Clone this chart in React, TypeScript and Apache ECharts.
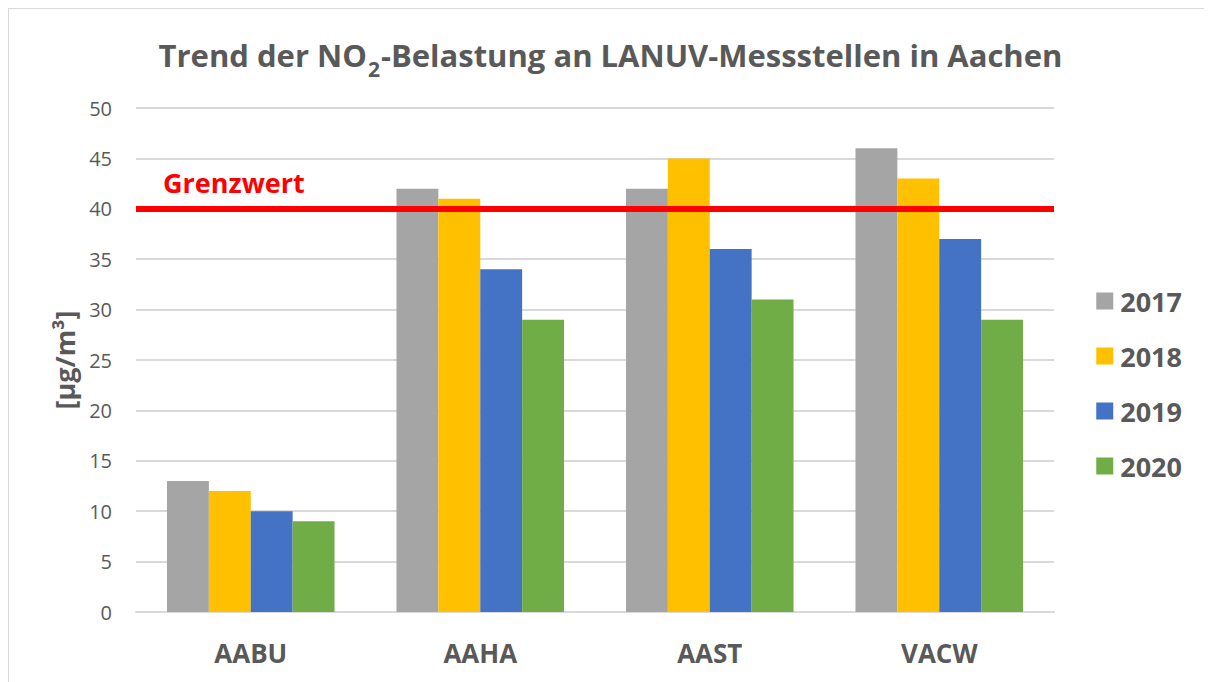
import React, { useEffect, useRef } from "react";
import * as echarts from "echarts";

const categories = ["AABU", "AAHA", "AAST", "VACW"];
const seriesNames = ["2017", "2018", "2019", "2020"];
const values2017 = [13, 42, 42, 46];
const values2018 = [12, 41, 45, 43];
const values2019 = [10, 34, 36, 37];
const values2020 = [9, 29, 31, 29];
const colors = ["#A5A5A5", "#FFC000", "#4472C4", "#70AD47"];
const limitValue = 40;
const limitLabel = "Grenzwert";

const FONT = "'Open Sans', sans-serif";
const TEXT = "#595959";

export default function App() {
  const ref = useRef<HTMLDivElement>(null);
  useEffect(() => {
    document.body.style.overflow = "hidden";
    if (!ref.current) return;
    const chart = echarts.init(ref.current, undefined, { renderer: "svg" });
    const data = [values2017, values2018, values2019, values2020];
    chart.setOption({
      animation: false,
      textStyle: { fontFamily: FONT },
      title: {
        text: "{a|Trend der NO}{s|2}{a|-Belastung an LANUV-Messstellen in Aachen}",
        left: "center",
        top: 12,
        textStyle: {
          rich: {
            a: { fontSize: 31, fontWeight: "bold", color: TEXT, fontFamily: FONT, lineHeight: 44, verticalAlign: "bottom" },
            s: { fontSize: 21, fontWeight: "bold", color: TEXT, fontFamily: FONT, lineHeight: 44, verticalAlign: "bottom", padding: [0, 1, -9, 1] },
          },
        },
      },
      legend: {
        orient: "vertical",
        right: 25,
        top: 272,
        itemWidth: 17,
        itemHeight: 17,
        itemGap: 25,
        icon: "rect",
        textStyle: { fontSize: 27, lineHeight: 30, fontWeight: "bold", color: TEXT, fontFamily: FONT, padding: [0, 0, 0, 2] },
        data: seriesNames,
      },
      grid: { left: 127, right: 158, top: 99, bottom: 70, containLabel: false },
      xAxis: {
        type: "category",
        data: categories,
        axisLine: { lineStyle: { color: "#D9D9D9", width: 2 } },
        axisTick: { show: false },
        axisLabel: { fontSize: 26, fontWeight: "bold", color: TEXT, margin: 28, fontFamily: FONT },
      },
      yAxis: {
        type: "value",
        min: 0,
        max: 50,
        interval: 5,
        name: "[µg/m³]",
        nameLocation: "middle",
        nameGap: 58,
        nameMoveOverlap: false,
        nameTextStyle: { fontSize: 27, fontWeight: "bold", color: TEXT, fontFamily: FONT },
        axisLine: { show: false },
        axisTick: { show: false },
        axisLabel: { fontSize: 20, color: TEXT, margin: 24, fontFamily: FONT },
        splitLine: { lineStyle: { color: "#D9D9D9", width: 2 } },
      },
      series: seriesNames.map((name, i) => ({
        name,
        type: "bar",
        data: data[i],
        barGap: "0%",
        barCategoryGap: "27%",
        itemStyle: { color: colors[i] },
        ...(i === seriesNames.length - 1
          ? {
              markLine: {
                symbol: "none",
                silent: true,
                z: 10,
                lineStyle: { color: "#FF0000", width: 6, type: "solid" },
                label: {
                  show: true,
                  formatter: limitLabel,
                  position: "insideStartTop",
                  color: "#FF0000",
                  fontSize: 27,
                  fontWeight: "bold",
                  fontFamily: FONT,
                  distance: [27, 13],
                },
                data: [{ yAxis: limitValue }],
              },
            }
          : {}),
      })),
    });
    return () => chart.dispose();
  }, []);
  return (
    <div
      ref={ref}
      style={{
        width: 1203,
        height: 673,
        borderTop: "1px solid #D9D9D9",
        borderLeft: "1px solid #D9D9D9",
      }}
    />
  );
}
